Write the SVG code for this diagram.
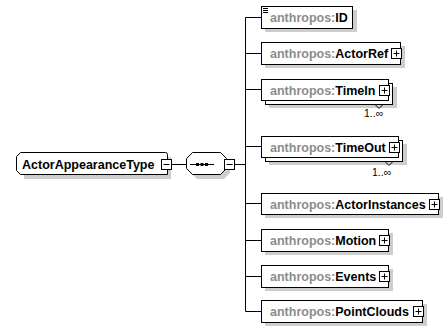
<svg xmlns="http://www.w3.org/2000/svg" width="448" height="329" viewBox="0 0 448 329">
<style>
.bx{fill:#fff;stroke:#000;stroke-width:1}
.sh{fill:#cdcdcd}
.ln{stroke:#000;stroke-width:1;fill:none}
.t{font-family:"Liberation Sans",Arial,sans-serif;font-size:12.5px;font-weight:bold;fill:#000}
.p{fill:#8c8c8c}
.m{font-family:"Liberation Sans",Arial,sans-serif;font-size:10.5px;fill:#000}
.btn{fill:#fff;stroke:#000;stroke-width:1}
</style>
<defs>
<g id="plus"><rect class="btn" x="0.5" y="0.5" width="10" height="10"/><path class="ln" d="M2.5 5.5H8.5M5.5 2.5V8.5"/></g>
<g id="minus"><rect class="btn" x="0.5" y="0.5" width="10" height="10"/><path class="ln" d="M2.5 5.5H8.5"/></g>
</defs>
<g id="connectors">
<path class="ln" d="M171 164.5H187M234 164.5H245.5M245.5 17.5V311.5M245.5 17.5H261M245.5 53.5H261M245.5 89.5H261M245.5 146.5H261M245.5 203.5H261M245.5 240.5H261M245.5 276.5H261M245.5 311.5H261"/>
</g>
<g id="root">
<path class="sh" d="M24 157H171V179H24Z"/>
<path class="bx" d="M20.5 152.5H165.5Q167.5 152.5 167.5 154.5V174.5H20.5L16.5 170.5V156.5Z"/>
<text class="t" x="22" y="168.5">ActorAppearanceType</text>
<use href="#minus" x="161" y="159"/>
</g>
<g id="sequence">
<path class="sh" d="M197 157H224L230 163V173L224 179H197L191 173V163Z"/>
<path class="bx" d="M192.5 152.5H220.5L226.5 158.5V168.5L220.5 174.5H192.5L186.5 168.5V158.5Z"/>
<path class="ln" d="M190 164.5H214"/>
<rect x="196" y="163" width="3" height="3" fill="#000"/>
<rect x="200.5" y="163" width="3" height="3" fill="#000"/>
<rect x="205" y="163" width="3" height="3" fill="#000"/>
<use href="#minus" x="224" y="159"/>
</g>
<g id="ID">
<rect class="sh" x="265" y="10" width="92" height="22"/>
<rect class="bx" x="261.5" y="6.5" width="91" height="22"/>
<path class="ln" d="M263 8.5H268M263 10.5H268M263 12.5H268"/>
<text class="t" x="270" y="22"><tspan class="p">anthropos:</tspan>ID</text>
</g>
<g id="ActorRef">
<rect class="sh" x="265" y="46" width="140" height="22"/>
<rect class="bx" x="261.5" y="42.5" width="139" height="22"/>
<text class="t" x="270" y="58"><tspan class="p">anthropos:</tspan>ActorRef</text>
<use href="#plus" x="391" y="48"/>
</g>
<g id="TimeIn">
<rect class="sh" x="269" y="87" width="128" height="21"/>
<rect class="bx" x="265.5" y="83.5" width="127" height="21"/>
<rect class="bx" x="261.5" y="79.5" width="127" height="21"/>
<text class="t" x="270" y="95"><tspan class="p">anthropos:</tspan>TimeIn</text>
<use href="#plus" x="379" y="85"/>
<path class="ln" d="M375 104.5L379 108.5L383 104.5"/>
<text class="m" x="364" y="117">1..∞</text>
</g>
<g id="TimeOut">
<rect class="sh" x="269" y="144" width="138" height="21"/>
<rect class="bx" x="265.5" y="140.5" width="137" height="21"/>
<rect class="bx" x="261.5" y="136.5" width="137" height="21"/>
<text class="t" x="270" y="152"><tspan class="p">anthropos:</tspan>TimeOut</text>
<use href="#plus" x="389" y="142"/>
<path class="ln" d="M385 161.5L389 165.5L393 161.5"/>
<text class="m" x="372" y="176">1..∞</text>
</g>
<g id="ActorInstances">
<rect class="sh" x="265" y="197" width="178" height="21"/>
<rect class="bx" x="261.5" y="193.5" width="177" height="21"/>
<text class="t" x="270" y="209"><tspan class="p">anthropos:</tspan>ActorInstances</text>
<use href="#plus" x="429" y="199"/>
</g>
<g id="Motion">
<rect class="sh" x="265" y="233" width="128" height="22"/>
<rect class="bx" x="261.5" y="229.5" width="127" height="22"/>
<text class="t" x="270" y="245"><tspan class="p">anthropos:</tspan>Motion</text>
<use href="#plus" x="379" y="235"/>
</g>
<g id="Events">
<rect class="sh" x="265" y="269" width="128" height="22"/>
<rect class="bx" x="261.5" y="265.5" width="127" height="22"/>
<text class="t" x="270" y="281"><tspan class="p">anthropos:</tspan>Events</text>
<use href="#plus" x="379" y="271"/>
</g>
<g id="PointClouds">
<rect class="sh" x="265" y="304" width="162" height="22"/>
<rect class="bx" x="261.5" y="300.5" width="161" height="22"/>
<text class="t" x="270" y="316"><tspan class="p">anthropos:</tspan>PointClouds</text>
<use href="#plus" x="413" y="306"/>
</g>
</svg>
